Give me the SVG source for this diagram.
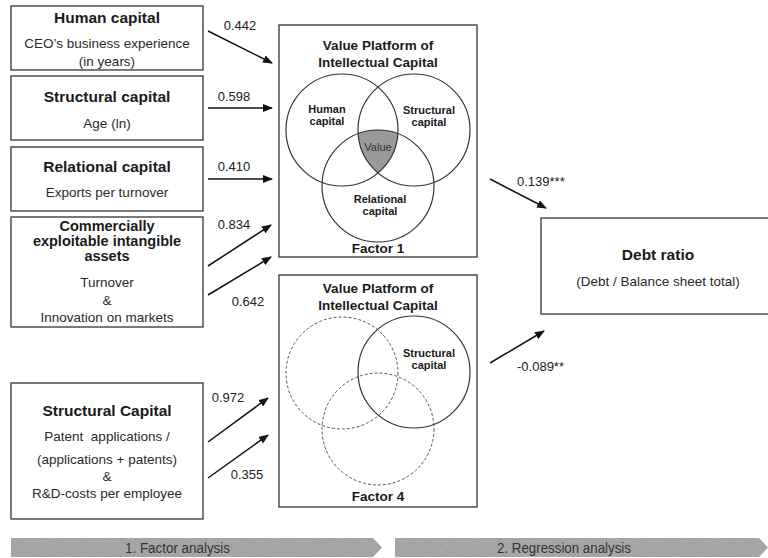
<svg xmlns="http://www.w3.org/2000/svg" width="768" height="558" viewBox="0 0 768 558">
<defs>
<marker id="ah" markerUnits="userSpaceOnUse" markerWidth="10" markerHeight="8" refX="9" refY="4" orient="auto">
<path d="M0,0 L10,4 L0,8 Z" fill="#111"/>
</marker>
<filter id="grain" x="0" y="0" width="100%" height="100%">
<feTurbulence type="fractalNoise" baseFrequency="0.6" numOctaves="2" seed="3" result="n"/>
<feColorMatrix in="n" type="matrix" values="0 0 0 0 0.5  0 0 0 0 0.5  0 0 0 0 0.5  0 0 0 -0.9 0.55" result="c"/>
<feComposite in="c" in2="SourceGraphic" operator="in" result="t"/>
<feMerge><feMergeNode in="SourceGraphic"/><feMergeNode in="t"/></feMerge>
</filter>
</defs>
<style>
text{font-family:"Liberation Sans",Arial,Helvetica,sans-serif;fill:#1a1a1a;text-anchor:middle}
.box{fill:#fff;stroke:#333;stroke-width:1.3}
.h{font-weight:bold;font-size:15.5px}
.h2{font-weight:bold;font-size:14.5px}
.s{font-size:13.5px;fill:#2a2a2a}
.ft{font-weight:bold;font-size:13.5px}
.vl{font-weight:bold;font-size:11px}
.num{font-size:13px;fill:#222}
.arr{stroke:#111;stroke-width:1.5;fill:none;marker-end:url(#ah)}
.c{fill:none;stroke:#333;stroke-width:1.2}
.d{fill:none;stroke:#555;stroke-width:1;stroke-dasharray:3 2}
.bar{fill:#a2a2a2}
.bt{font-size:14px;fill:#333}
</style>

<g id="human-capital">
<rect class="box" x="11" y="6" width="192" height="64"/>
<text class="h" x="107" y="23">Human capital</text>
<text class="s" x="107" y="48">CEO’s business experience</text>
<text class="s" x="107" y="66">(in years)</text>
</g>
<g id="structural-capital">
<rect class="box" x="11" y="76" width="192" height="64"/>
<text class="h" x="107" y="102">Structural capital</text>
<text class="s" x="107" y="128">Age (ln)</text>
</g>
<g id="relational-capital">
<rect class="box" x="11" y="147" width="192" height="64"/>
<text class="h" x="107" y="172">Relational capital</text>
<text class="s" x="107" y="197">Exports per turnover</text>
</g>
<g id="commercial-assets">
<rect class="box" x="11" y="217" width="192" height="110"/>
<text class="h2" x="107" y="231">Commercially</text>
<text class="h2" x="107" y="246">exploitable intangible</text>
<text class="h2" x="107" y="261">assets</text>
<text class="s" x="107" y="287">Turnover</text>
<text class="s" x="107" y="305">&amp;</text>
<text class="s" x="107" y="322">Innovation on markets</text>
</g>
<g id="structural-capital-2">
<rect class="box" x="11" y="383" width="192" height="136"/>
<text class="h" x="107" y="416">Structural Capital</text>
<text class="s" x="107" y="441" xml:space="preserve">Patent  applications /</text>
<text class="s" x="107" y="464">(applications + patents)</text>
<text class="s" x="107" y="481">&amp;</text>
<text class="s" x="107" y="498">R&amp;D-costs per employee</text>
</g>

<g id="factor-1">
<rect class="box" x="279" y="25" width="198" height="232"/>
<text class="ft" x="378" y="50">Value Platform of</text>
<text class="ft" x="378" y="67">Intellectual Capital</text>
<path d="M358.1,133.6 A56,56 0 0 1 397.9,133.6 A56,56 0 0 1 378,172.9 A56,56 0 0 1 358.1,133.6 Z" fill="#9a9a9a"/>
<circle class="c" cx="342" cy="130" r="56"/>
<circle class="c" cx="414" cy="130" r="56"/>
<circle class="c" cx="378" cy="186" r="56"/>
<text class="vl" x="327" y="113">Human</text>
<text class="vl" x="327" y="125">capital</text>
<text class="vl" x="429" y="114">Structural</text>
<text class="vl" x="429" y="126">capital</text>
<text x="378" y="151" style="font-size:11px;fill:#333">Value</text>
<text class="vl" x="380" y="203">Relational</text>
<text class="vl" x="380" y="215">capital</text>
<text class="ft" x="378" y="253">Factor 1</text>
</g>

<g id="factor-4">
<rect class="box" x="279" y="275" width="198" height="232"/>
<text class="ft" x="378" y="293">Value Platform of</text>
<text class="ft" x="378" y="310">Intellectual Capital</text>
<circle class="d" cx="342" cy="373" r="56"/>
<circle class="d" cx="378" cy="429" r="56"/>
<circle class="c" cx="414" cy="372" r="56"/>
<text class="vl" x="429" y="357">Structural</text>
<text class="vl" x="429" y="369">capital</text>
<text class="ft" x="378" y="501">Factor 4</text>
</g>

<g id="debt-ratio">
<rect class="box" x="541" y="218" width="232" height="96"/>
<text x="658" y="260" style="font-weight:bold;font-size:15.5px">Debt ratio</text>
<text class="s" x="658" y="286">(Debt / Balance sheet total)</text>
</g>

<g id="connectors">
<line class="arr" x1="208" y1="31" x2="272" y2="63"/>
<line class="arr" x1="208" y1="108" x2="272" y2="108"/>
<line class="arr" x1="208" y1="179" x2="272" y2="179"/>
<line class="arr" x1="208" y1="266" x2="271" y2="225"/>
<line class="arr" x1="208" y1="295" x2="271" y2="257"/>
<line class="arr" x1="208" y1="442" x2="268" y2="398"/>
<line class="arr" x1="208" y1="478" x2="268" y2="435"/>
<line class="arr" x1="490" y1="179" x2="546" y2="208"/>
<line class="arr" x1="490" y1="363" x2="544" y2="331"/>
<text class="num" x="240" y="30">0.442</text>
<text class="num" x="234" y="101">0.598</text>
<text class="num" x="234" y="171">0.410</text>
<text class="num" x="234" y="229">0.834</text>
<text class="num" x="248" y="306">0.642</text>
<text class="num" x="228" y="402">0.972</text>
<text class="num" x="247" y="479">0.355</text>
<text class="num" x="517" y="186" style="text-anchor:start">0.139***</text>
<text class="num" x="517" y="371" style="text-anchor:start">-0.089**</text>
</g>

<g id="phase-bars">
<path class="bar" filter="url(#grain)" d="M11,538 L373,538 L382,547.5 L373,557 L11,557 Z"/>
<path class="bar" filter="url(#grain)" d="M395,538 L759,538 L768,547.5 L759,557 L395,557 Z"/>
<text class="bt" x="177.5" y="552.5" textLength="105" lengthAdjust="spacingAndGlyphs">1. Factor analysis</text>
<text class="bt" x="564" y="552.5" textLength="134" lengthAdjust="spacingAndGlyphs">2. Regression analysis</text>
</g>
</svg>
